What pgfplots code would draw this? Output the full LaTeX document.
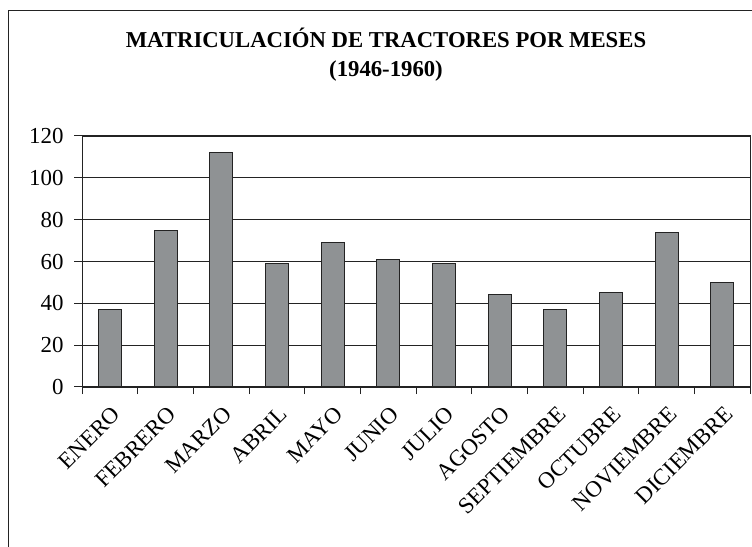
\documentclass[border=0pt]{standalone}
\usepackage{pgfplots}
\pgfplotsset{compat=1.18}
\usepackage{fontspec}
\setmainfont{Liberation Serif}
\definecolor{barfill}{RGB}{143,146,148}
\definecolor{lineC}{RGB}{35,35,35}
\pgfplotstableread{
idx value
0 37
1 75
2 112
3 59
4 69
5 61
6 59
7 44
8 37
9 45
10 74
11 50
}\datatable
\begin{document}
\begin{tikzpicture}
\useasboundingbox (0bp,0bp) rectangle (752bp,547bp);
\fill[white] (0bp,0bp) rectangle (752bp,547bp);
\draw[lineC, line width=1bp] (8bp,-10bp) -- (8bp,536bp) -- (770bp,536bp);
\node[font=\fontsize{22.8}{27}\selectfont\bfseries, anchor=base] at (386bp,499bp) {MATRICULACIÓN DE TRACTORES POR MESES};
\node[font=\fontsize{22.8}{27}\selectfont\bfseries, anchor=base] at (386bp,470bp) {(1946-1960)};
\begin{axis}[
  at={(82bp,160bp)}, anchor=south west,
  scale only axis, width=668bp, height=251bp,
  xmin=-0.5, xmax=11.5, ymin=0, ymax=120,
  ytick={0,20,...,120},
  xtick={0,...,11},
  xticklabels={ENERO,FEBRERO,MARZO,ABRIL,MAYO,JUNIO,JULIO,AGOSTO,SEPTIEMBRE,OCTUBRE,NOVIEMBRE,DICIEMBRE},
  minor xtick={-0.5,0.5,...,11.5},
  major x tick style={draw=none},
  tick pos=left, tick align=outside,
  major tick length=8bp, minor tick length=7bp,
  every tick/.style={lineC, line width=1bp},
  axis line style={lineC, line width=1bp},
  ymajorgrids, grid style={lineC, line width=0.9bp},
  /pgf/number format/assume math mode=true,
  tick label style={font=\fontsize{23}{27}\selectfont, text=black},
  yticklabel style={xshift=-7bp},
  xticklabel style={xshift=1bp, yshift=-10bp, rotate=45, anchor=north east, inner sep=0pt},
  ybar, bar width=23bp,
]
\addplot[fill=barfill, draw=lineC, line width=1bp] table[x=idx, y=value] {\datatable};
\end{axis}
\end{tikzpicture}
\end{document}
